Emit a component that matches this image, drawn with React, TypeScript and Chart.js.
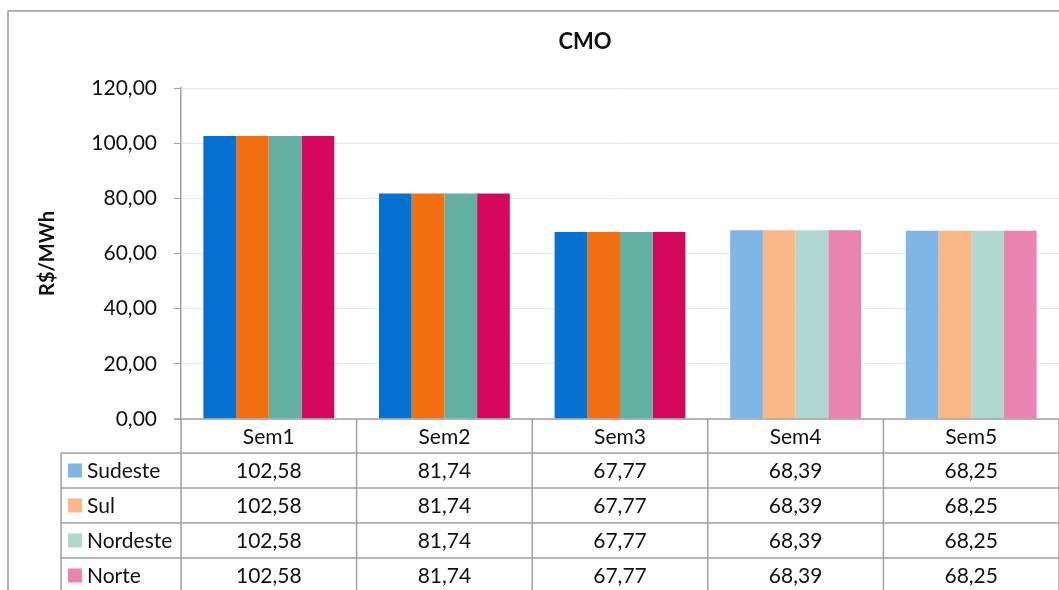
import React, { useEffect, useRef } from "react";
import { Chart, registerables } from "chart.js";

Chart.register(...registerables);

const categories = ["Sem1", "Sem2", "Sem3", "Sem4", "Sem5"];
const seriesNames = ["Sudeste", "Sul", "Nordeste", "Norte"];
const sudeste = [102.58, 81.74, 67.77, 68.39, 68.25];
const sul = [102.58, 81.74, 67.77, 68.39, 68.25];
const nordeste = [102.58, 81.74, 67.77, 68.39, 68.25];
const norte = [102.58, 81.74, 67.77, 68.39, 68.25];
const seriesValues = [sudeste, sul, nordeste, norte];
const projected = [false, false, false, true, true];
const solidColors = ["#0571D0", "#F37012", "#63B1A3", "#D4075D"];
const lightColors = ["#80B6E6", "#F8B888", "#B0D8CF", "#E984AE"];
const yTicksMax = 120;
const yStep = 20;

const FONT = "Lato, 'Open Sans', 'DejaVu Sans', sans-serif";
const FS = 21;
const fmt = (v: number) => v.toFixed(2).replace(".", ",");

const tablePlugin = {
  id: "dataTable",
  beforeDraw(chart: any) {
    const ctx = chart.ctx;
    ctx.save();
    ctx.strokeStyle = "#9A9A9A";
    ctx.lineWidth = 1.5;
    ctx.strokeRect(8, 11, chart.width + 50, chart.height + 50);
    ctx.restore();
  },
  afterDraw(chart: any) {
    const ctx = chart.ctx;
    const area = chart.chartArea;
    const n = categories.length;
    const catW = (area.right - area.left) / n;
    const top = area.bottom;
    const headerH = 34;
    const rowH = 35;
    const legendLeft = 61;
    const bottom = top + headerH + rowH * seriesNames.length + 10;
    ctx.save();
    ctx.strokeStyle = "#A0A0A0";
    ctx.lineWidth = 1.5;
    ctx.beginPath();
    ctx.moveTo(area.left - 7, top);
    ctx.lineTo(area.right + 5, top);
    ctx.stroke();
    for (let i = 0; i <= n; i++) {
      const x = area.left + i * catW;
      ctx.beginPath();
      ctx.moveTo(x, top);
      ctx.lineTo(x, bottom);
      ctx.stroke();
    }
    ctx.beginPath();
    ctx.moveTo(legendLeft, top + headerH);
    ctx.lineTo(legendLeft, bottom);
    ctx.stroke();
    for (let r = 0; r < seriesNames.length; r++) {
      const y = top + headerH + r * rowH;
      ctx.beginPath();
      ctx.moveTo(legendLeft, y);
      ctx.lineTo(area.right + 5, y);
      ctx.stroke();
    }
    ctx.fillStyle = "#111";
    ctx.font = `${FS}px ${FONT}`;
    ctx.textBaseline = "middle";
    ctx.textAlign = "center";
    const xs = chart.scales.x;
    categories.forEach((c, i) => {
      const cx = xs.getPixelForTick(i);
      ctx.fillText(c, cx, top + headerH / 2 + 1);
      seriesValues.forEach((vals, r) => {
        ctx.fillText(fmt(vals[i]), cx, top + headerH + r * rowH + rowH / 2 + 1);
      });
    });
    ctx.textAlign = "left";
    seriesNames.forEach((name, r) => {
      const cy = top + headerH + r * rowH + rowH / 2;
      ctx.fillStyle = lightColors[r];
      ctx.fillRect(68, cy - 7, 14, 14);
      ctx.fillStyle = "#111";
      ctx.fillText(name, 87, cy + 1);
    });
    ctx.font = `bold 22px ${FONT}`;
    ctx.textAlign = "center";
    ctx.fillStyle = "#111";
    ctx.fillText("CMO", 585, 42);
    ctx.restore();
  },
};

export default function App() {
  const ref = useRef<HTMLCanvasElement>(null);
  useEffect(() => {
    let chart: Chart | null = null;
    let cancelled = false;
    const make = () => {
      if (cancelled || !ref.current) return;
      chart = new Chart(ref.current, {
        type: "bar",
        data: {
          labels: categories,
          datasets: seriesNames.map((name, s) => ({
            label: name,
            data: seriesValues[s],
            backgroundColor: categories.map((_, i) =>
              projected[i] ? lightColors[s] : solidColors[s]
            ),
            borderWidth: 0,
            categoryPercentage: 0.745,
            barPercentage: 1,
          })),
        },
        options: {
          animation: false,
          responsive: false,
          maintainAspectRatio: false,
          layout: { padding: { left: 8, top: 88, right: 0, bottom: 171 } },
          plugins: {
            legend: { display: false },
            tooltip: { enabled: false },
            title: { display: false },
          },
          scales: {
            x: { display: false },
            y: {
              min: 0,
              max: yTicksMax,
              ticks: {
                stepSize: yStep,
                callback: (v: any) => fmt(Number(v)),
                font: { family: FONT, size: FS },
                color: "#111",
                padding: 17,
              },
              grid: {
                color: "#E3E8F0",
                tickColor: "#A0A0A0",
                tickLength: 7,
                lineWidth: 1,
              },
              border: { color: "#A0A0A0", width: 1.5 },
              title: {
                display: true,
                text: "R$/MWh",
                font: { family: FONT, size: 20, weight: "bold" },
                color: "#111",
                padding: { top: 28, bottom: 0 },
              },
              afterFit: (scale: any) => {
                scale.width = 173;
              },
            },
          },
        },
        plugins: [tablePlugin],
      } as any);
    };
    const fontsReady = (document as any).fonts
      ? Promise.all([
          (document as any).fonts.load(`20px Lato`),
          (document as any).fonts.load(`bold 20px Lato`),
        ]).catch(() => null)
      : Promise.resolve(null);
    fontsReady.then(make);
    return () => {
      cancelled = true;
      if (chart) chart.destroy();
    };
  }, []);
  return (
    <div style={{ position: "absolute", left: 0, top: 0, width: 1059, height: 590, background: "#fff" }}>
      <canvas ref={ref} width={1059} height={590} style={{ width: 1059, height: 590 }} />
    </div>
  );
}
